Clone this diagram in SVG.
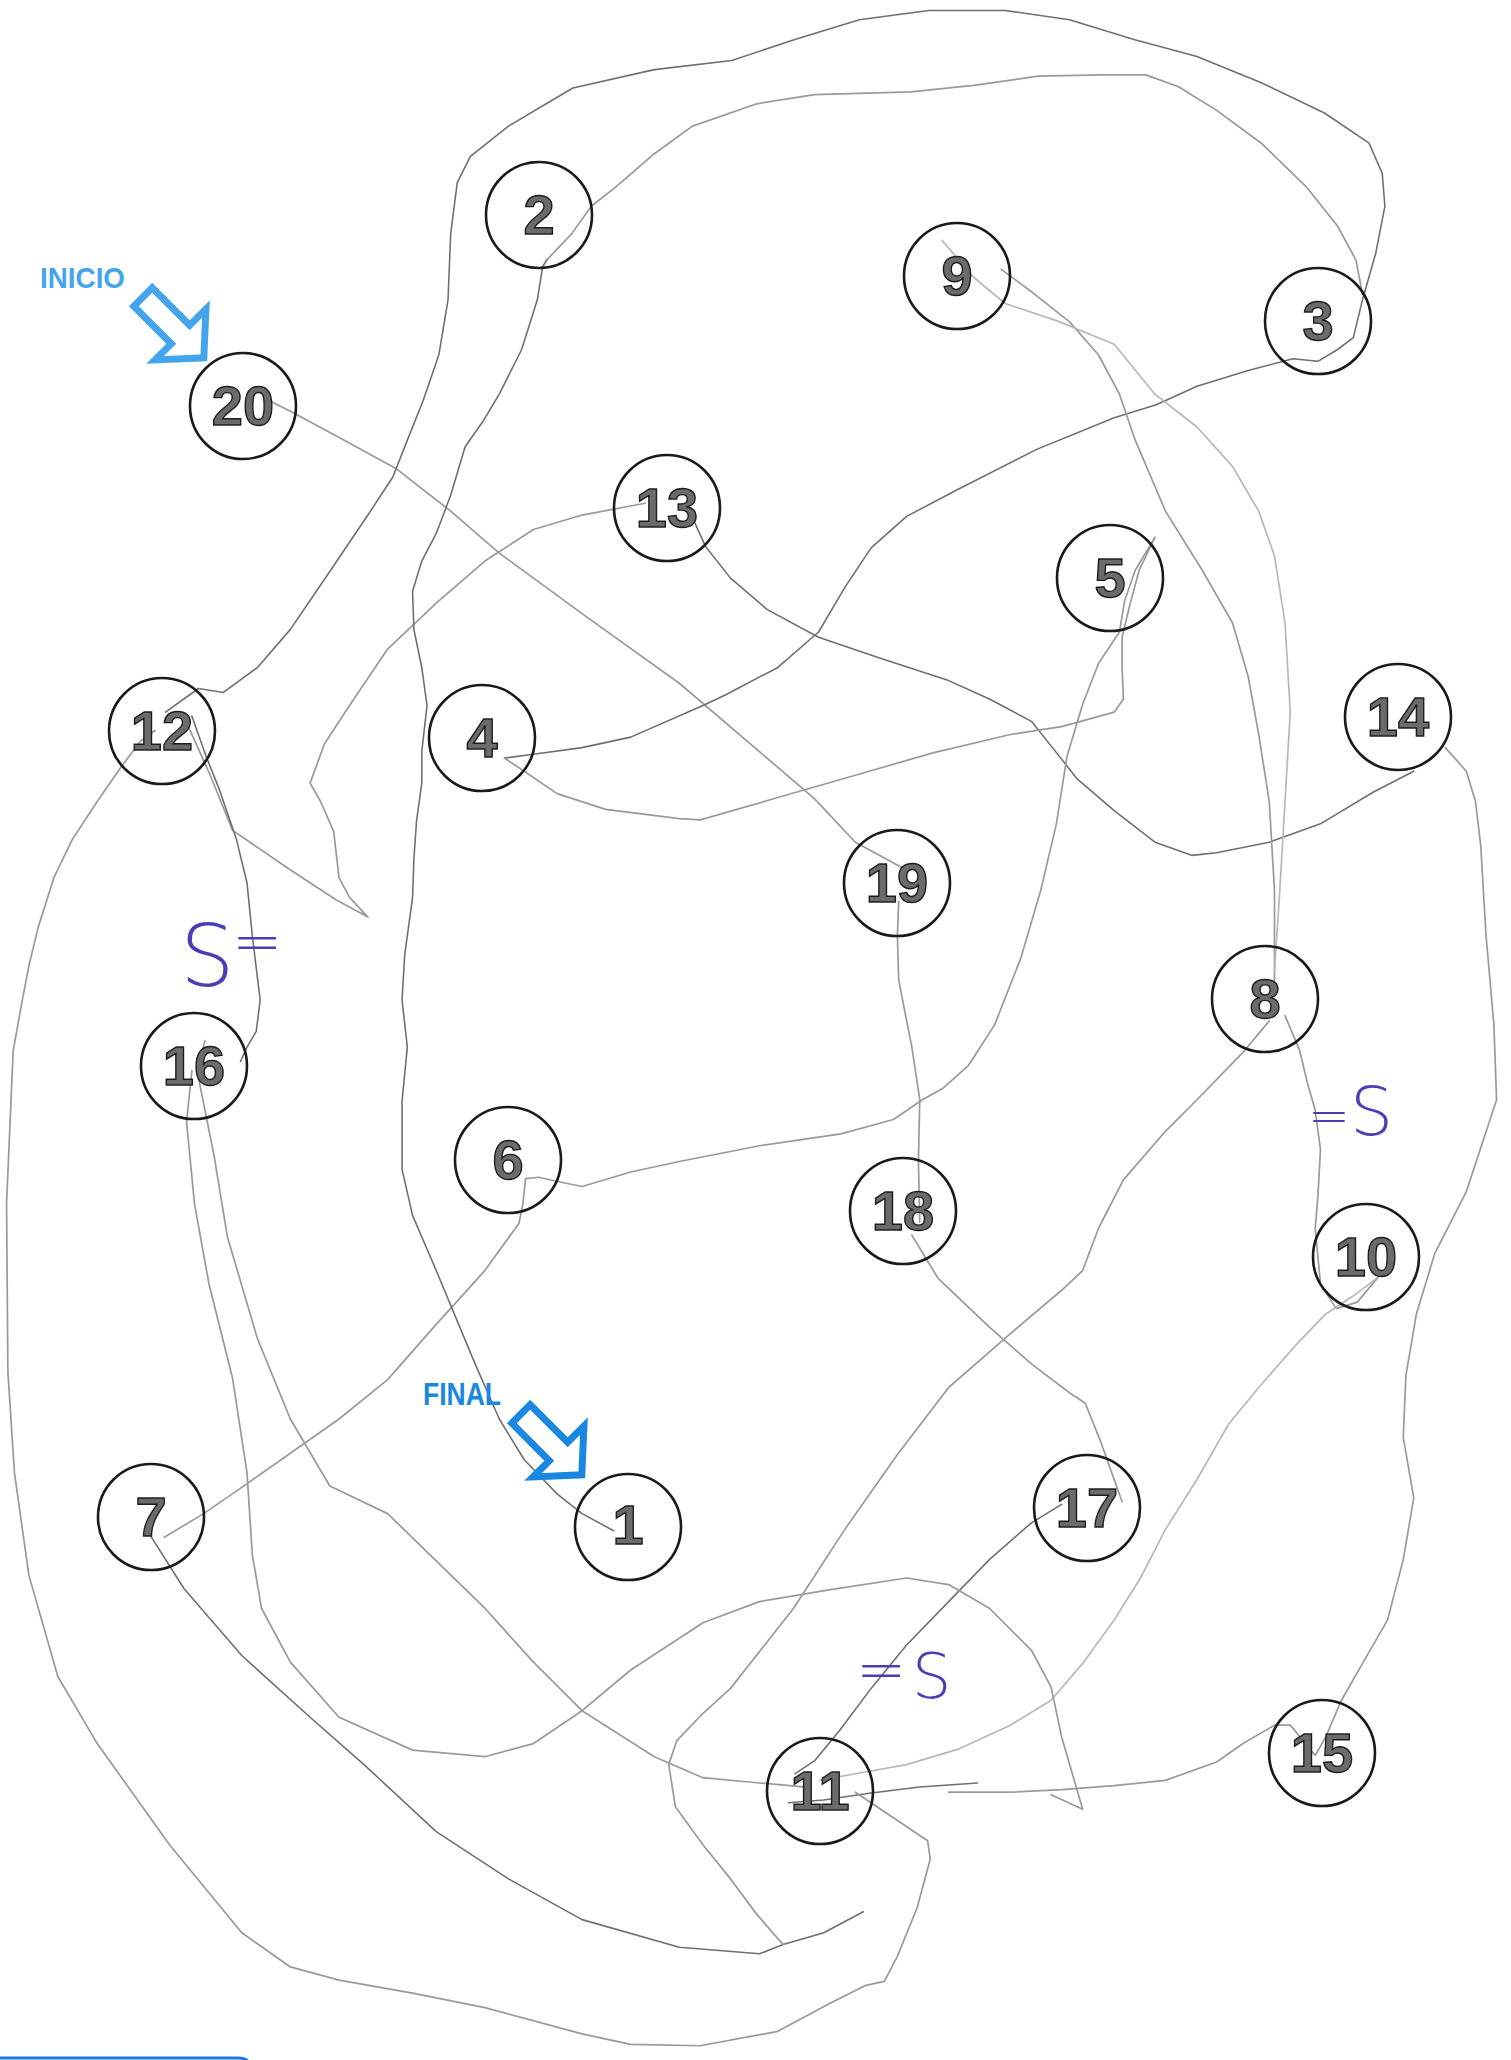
<svg xmlns="http://www.w3.org/2000/svg" xmlns:xlink="http://www.w3.org/1999/xlink" width="1511" height="2060" viewBox="0 0 1511 2060">
<style>
.pen{fill:none;stroke:#9a9a9a;stroke-width:1.3;stroke-linejoin:round;stroke-linecap:round}
.pend{fill:none;stroke:#6f6f6f;stroke-width:1.2;stroke-linejoin:round;stroke-linecap:round}
.penl{fill:none;stroke:#b8b8b8;stroke-width:1.3;stroke-linejoin:round;stroke-linecap:round}
.ring{fill:none;stroke:#1a1a1a;stroke-width:2.6}
.num{font-family:"Liberation Sans",Arial,sans-serif;font-weight:bold;font-size:56px;fill:#6b6b6b;stroke:#1c1c1c;stroke-width:1.4;text-anchor:middle}
.hand{font-family:"DejaVu Sans","Liberation Sans",sans-serif;font-weight:200;fill:#4a3db5}
.lbl{font-family:"Liberation Sans",Arial,sans-serif;font-weight:bold}
</style>
<defs>
<path id="arr" d="M0,-13 L53,-13 L53,-36 L86,0 L53,36 L53,13 L0,13 Z" fill="#ffffff" stroke-width="7" stroke-linejoin="miter"/>
</defs>
<rect width="1511" height="2060" fill="#ffffff"/>

<g id="connectors" transform="scale(1.313913)">
<path class="pen" d="M205,305 L221,313 L262,335 L302,357 L343,389 L380,421 L443,467 L517,520 L578,572 L620,608 L651,641 L686,660"/>
<path class="pen" d="M684,686 L683,712 L684,746 L694,797 L700,837 L699,884 L700,930"/>
<path class="pen" d="M694,940 L714,973 L753,1010 L785,1038 L814,1060 L826,1068 L838,1098 L848,1126 L854,1143"/>
<path class="pend" d="M808,1145 L785,1159 L753,1187 L722,1219 L690,1252 L663,1285 L639,1317 L620,1340 L605,1350"/>
<path class="pend" d="M600,1372 L627,1370 L660,1365 L700,1360 L744,1357"/>
<path class="pen" d="M1001,1336 L982,1313 L970,1313 L946,1327 L926,1341 L887,1355 L848,1359 L808,1362 L769,1364 L722,1364"/>
<path class="pen" d="M1100,569 L1116,587 L1123,610 L1127,644 L1131,712 L1137,780 L1139,837 L1116,907 L1092,954 L1078,1000 L1070,1047 L1068,1094 L1076,1140 L1068,1187 L1056,1233 L1037,1266 L1021,1294 L1009,1322 L1001,1336"/>
<path class="pend" d="M1076,587 L1045,603 L1005,627 L966,641 L926,649 L907,651 L879,641 L848,617 L820,593 L801,569 L785,549 L753,532 L722,518 L670,501 L623,485 L584,464 L556,440 L537,416 L528,396"/>
<path class="pen" d="M491,383 L443,392 L406,403 L369,427 L332,459 L295,494 L266,537 L247,566 L236,596 L244,610 L254,633 L258,668 L266,683 L280,698 L256,685 L218,660 L177,632 L160,590 L142,550"/>
<path class="pend" d="M146,545 L157,576 L167,601 L180,639 L188,672 L192,712 L198,761 L195,785 L188,797 L183,808"/>
<path class="pend" d="M126,542 L151,524 L170,527 L196,508 L221,479 L251,435 L280,392 L299,363 L312,330 L322,305 L334,270 L341,228 L343,178 L348,139 L358,119 L387,96 L436,67 L498,53 L557,46 L605,30 L654,15 L707,8 L765,8 L814,15 L863,30 L911,43 L960,63 L1008,86 L1042,109 L1052,132 L1054,157 L1047,193 L1037,228 L1030,257 L1018,266 L1003,275 L984,273 L950,282 L911,294 L880,308 L848,318 L789,342 L730,372 L690,393 L663,417 L643,447 L623,481 L592,508 L552,529 L535,537 L480,561 L443,569 L406,574 L384,577"/>
<path class="pen" d="M384,577 L399,587 L424,604 L461,616 L517,623 L533,624 L592,607 L651,590 L710,573 L769,559 L808,553 L848,542 L855,532 L854,508 L854,485 L860,460 L867,434 L879,409"/>
<path class="pen" d="M879,409 L864,434 L856,457 L852,481 L836,505 L824,536 L812,576 L804,627 L792,678 L777,729 L757,780 L737,811 L718,828 L702,837 L680,852 L640,863 L578,872 L517,884 L480,892 L443,903 L428,900 L410,896 L400,897 L398,916 L395,931 L369,967 L332,1008 L295,1050 L258,1080 L221,1106 L184,1132 L155,1152 L125,1170"/>
<path class="pend" d="M114,1168 L140,1209 L184,1260 L236,1307 L277,1343 L332,1394 L387,1430 L443,1461 L517,1482 L578,1487 L596,1480 L627,1471 L657,1455"/>
<path class="pen" d="M416,198 L435,178 L450,157 L469,142 L498,117 L527,96 L576,79 L620,72 L693,70 L741,65 L790,58 L839,57 L872,57 L897,66 L926,84 L960,109 L994,142 L1018,172 L1032,198 L1037,224"/>
<path class="pend" d="M416,198 L413,203 L409,228 L397,266 L380,300 L368,320 L354,340 L343,377 L332,406 L321,427 L314,450 L315,479 L321,508 L325,537 L321,572 L321,596 L317,625 L315,654 L314,683 L308,727 L306,761 L310,797 L306,838 L306,890 L314,925 L332,967 L347,1003 L362,1039 L380,1080 L399,1111 L424,1137 L443,1152 L467,1165"/>
<path class="pen" d="M762,205 L785,222 L814,245 L836,270 L852,300 L864,335 L887,389 L915,434 L938,474 L950,515 L958,559 L966,610 L970,678 L970,746"/>
<path class="penl" d="M717,183 L741,211 L765,231 L804,244 L848,262 L879,300 L911,325 L938,355 L958,389 L970,423 L978,474 L982,542 L978,610 L974,678 L970,739"/>
<path class="pen" d="M966,777 L946,801 L911,837 L887,861 L855,898 L836,935 L824,967 L808,982 L769,1015 L722,1056 L683,1107 L643,1164 L604,1224 L556,1285 L533,1306 L515,1325 L509,1343 L514,1375 L535,1404 L556,1430 L576,1457 L596,1480"/>
<path class="pen" d="M978,773 L989,799 L995,824 L1001,845 L1005,875 L1003,911 L1001,935 L1005,977 L1017,996 L1033,991 L1049,972"/>
<path class="penl" d="M1049,972 L1029,987 L1009,1000 L986,1024 L958,1056 L935,1084 L911,1126 L887,1164 L868,1201 L848,1233 L824,1266 L800,1294 L769,1313 L730,1331 L690,1343 L651,1350 L624,1355"/>
<path class="pen" d="M156,792 L150,815 L155,840 L163,880 L173,941 L196,1019 L221,1080 L251,1131 L295,1152 L332,1188 L369,1224 L406,1265 L443,1302 L498,1337 L535,1353 L578,1357 L612,1360"/>
<path class="pen" d="M146,815 L142,854 L148,916 L159,977 L177,1049 L188,1121 L192,1183 L199,1224 L221,1265 L258,1307 L314,1332 L369,1337 L406,1327 L443,1302 L480,1271 L535,1235 L578,1219 L631,1210 L690,1201 L722,1206 L753,1224 L785,1256 L800,1284 L808,1322 L824,1377 L800,1366"/>
<path class="pen" d="M651,1364 L706,1401 L708,1415 L698,1452 L683,1489 L673,1508 L659,1511 L631,1525 L592,1546 L533,1557 L480,1556 L443,1548 L369,1528 L314,1517 L258,1507 L221,1497 L184,1471 L129,1404 L74,1327 L44,1276 L22,1199 L11,1121 L6,1044 L5,916 L10,800 L17,761 L22,735 L29,706 L41,668 L55,639 L74,610 L92,584 L107,564 L118,556"/>
</g>

<g id="n2"><circle class="ring" cx="539" cy="215" r="53"/><text class="num" x="539" y="234">2</text></g>
<g id="n9"><circle class="ring" cx="957" cy="276" r="53"/><text class="num" x="957" y="295">9</text></g>
<g id="n3"><circle class="ring" cx="1318" cy="321" r="53"/><text class="num" x="1318" y="340">3</text></g>
<g id="n20"><circle class="ring" cx="243" cy="406" r="53"/><text class="num" x="243" y="425">20</text></g>
<g id="n13"><circle class="ring" cx="667" cy="508" r="53"/><text class="num" x="667" y="527">13</text></g>
<g id="n5"><circle class="ring" cx="1110" cy="578" r="53"/><text class="num" x="1110" y="597">5</text></g>
<g id="n12"><circle class="ring" cx="162" cy="731" r="53"/><text class="num" x="162" y="750">12</text></g>
<g id="n4"><circle class="ring" cx="482" cy="738" r="53"/><text class="num" x="482" y="757">4</text></g>
<g id="n14"><circle class="ring" cx="1398" cy="717" r="53"/><text class="num" x="1398" y="736">14</text></g>
<g id="n19"><circle class="ring" cx="897" cy="883" r="53"/><text class="num" x="897" y="902">19</text></g>
<g id="n8"><circle class="ring" cx="1265" cy="999" r="53"/><text class="num" x="1265" y="1018">8</text></g>
<g id="n16"><circle class="ring" cx="194" cy="1066" r="53"/><text class="num" x="194" y="1085">16</text></g>
<g id="n6"><circle class="ring" cx="508" cy="1160" r="53"/><text class="num" x="508" y="1179">6</text></g>
<g id="n18"><circle class="ring" cx="903" cy="1211" r="53"/><text class="num" x="903" y="1230">18</text></g>
<g id="n10"><circle class="ring" cx="1366" cy="1257" r="53"/><text class="num" x="1366" y="1276">10</text></g>
<g id="n7"><circle class="ring" cx="151" cy="1517" r="53"/><text class="num" x="151" y="1536">7</text></g>
<g id="n1"><circle class="ring" cx="628" cy="1527" r="53"/><text class="num" x="628" y="1544">1</text></g>
<g id="n17"><circle class="ring" cx="1087" cy="1508" r="53"/><text class="num" x="1087" y="1527">17</text></g>
<g id="n15"><circle class="ring" cx="1322" cy="1753" r="53"/><text class="num" x="1322" y="1772">15</text></g>
<g id="n11"><circle class="ring" cx="820" cy="1791" r="53"/><text class="num" x="820" y="1810">11</text></g>

<g id="inicio">
<text class="lbl" x="40" y="288" font-size="30" fill="#45a5ec" textLength="85" lengthAdjust="spacingAndGlyphs">INICIO</text>
<use xlink:href="#arr" href="#arr" stroke="#45a5ec" transform="translate(143,297) rotate(45)"/>
</g>
<g id="final">
<text class="lbl" x="423" y="1405" font-size="31" fill="#1a87e0" textLength="78" lengthAdjust="spacingAndGlyphs">FINAL</text>
<use xlink:href="#arr" href="#arr" stroke="#1a87e0" transform="translate(521,1414) rotate(45)"/>
</g>

<g id="marks">
<text class="hand"><tspan x="180" y="986" font-size="86">S</tspan><tspan x="232" y="962" font-size="60">=</tspan></text>
<text class="hand"><tspan x="1308" y="1133" font-size="50">=</tspan><tspan x="1350" y="1135" font-size="68">S</tspan></text>
<text class="hand"><tspan x="856" y="1690" font-size="60">=</tspan><tspan x="912" y="1698" font-size="62">S</tspan></text>
</g>

<path d="M0,2058 L238,2058 Q249,2058 250,2066" fill="none" stroke="#1f7ad9" stroke-width="3"/>
</svg>
